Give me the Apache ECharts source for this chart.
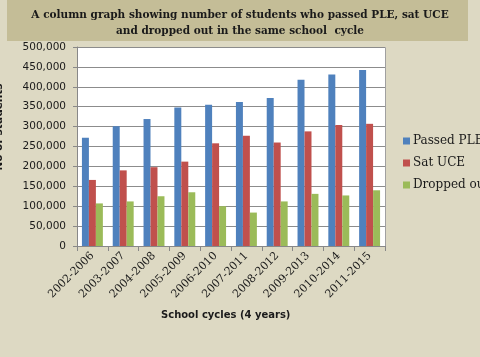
<!DOCTYPE html>
<html><head><meta charset="utf-8">
<script src="https://cdn.jsdelivr.net/npm/echarts@6/dist/echarts.min.js"></script>
<style>html,body{margin:0;padding:0;background:#DDD9C3}#c{width:480px;height:357px}</style>
</head><body><div id="c"></div>
<script>
const categories = ['2002-2006','2003-2007','2004-2008','2005-2009','2006-2010','2007-2011','2008-2012','2009-2013','2010-2014','2011-2015'];
const passedPLE = [272000, 301000, 319000, 348000, 355000, 362000, 372000, 418000, 431000, 442000];
const satUCE = [166000, 190000, 198000, 212000, 258000, 277000, 260000, 288000, 304000, 307000];
const droppedOut = [107000, 112000, 125000, 135000, 100000, 84000, 112000, 131000, 127000, 140000];
const seriesNames = ['Passed PLE', 'Sat UCE', 'Dropped out'];
const titleLines = ['A column graph showing number of students who passed PLE, sat UCE', 'and dropped out in the same school  cycle'];

const chart = echarts.init(document.getElementById('c'));
const colors = ['#4F81BD', '#C0504D', '#9BBB59'];
const serif = 'DejaVu Serif';
chart.setOption({
  backgroundColor: '#DDD9C3',
  animation: false,
  color: colors,
  graphic: [
    {type: 'rect', left: 7, top: 0, shape: {width: 461, height: 41}, style: {fill: '#C4BD97'}, z: 0},
    {type: 'text', left: 'center', top: 7, style: {text: titleLines.join('\n'), font: 'bold 10.5px "' + serif + '"', fill: '#1a1a1a', textAlign: 'center', lineHeight: 16}, z: 1},
    {type: 'rect', left: 77, top: 47, shape: {width: 308, height: 199}, style: {fill: '#fff', stroke: '#A0A0A0', lineWidth: 1}, z: -1, silent: true},
    {type: 'text', left: 161, top: 310, style: {text: 'School cycles (4 years)', font: 'bold 10px "DejaVu Sans"', fill: '#1a1a1a'}},
    {type: 'text', x: -1, y: 127, rotation: Math.PI / 2, style: {text: 'No of students', font: 'bold 10.5px "DejaVu Sans"', fill: '#1a1a1a', textAlign: 'center', textVerticalAlign: 'middle'}}
  ],
  grid: {left: 77, right: 95, top: 47, bottom: 111},
  legend: {
    orient: 'vertical', left: 398, top: 130, itemWidth: 7, itemHeight: 7, itemGap: 10,
    icon: 'rect',
    textStyle: {fontFamily: serif, fontSize: 12, color: '#1a1a1a', padding: [0, 0, 0, -2]},
    data: seriesNames
  },
  xAxis: {
    type: 'category', data: categories,
    axisLine: {lineStyle: {color: '#888', width: 1}},
    axisTick: {show: true, alignWithLabel: false, length: 5, lineStyle: {color: '#888'}},
    axisLabel: {rotate: 45, fontFamily: serif, fontSize: 11, color: '#1a1a1a', margin: 8, interval: 0}
  },
  yAxis: {
    type: 'value', min: 0, max: 500000, interval: 50000,
    axisLine: {show: true, lineStyle: {color: '#888'}},
    axisTick: {show: true, length: 4, lineStyle: {color: '#888'}},
    splitLine: {lineStyle: {color: '#8C8C8C', width: 1}},
    axisLabel: {fontFamily: 'DejaVu Sans', fontSize: 10.5, color: '#1a1a1a', margin: 11,
      formatter: v => v.toLocaleString('en-US')}
  },
  series: [
    {name: seriesNames[0], type: 'bar', data: passedPLE, barGap: '0%', barCategoryGap: '32%'},
    {name: seriesNames[1], type: 'bar', data: satUCE, barGap: '0%', barCategoryGap: '32%'},
    {name: seriesNames[2], type: 'bar', data: droppedOut, barGap: '0%', barCategoryGap: '32%'}
  ]
});
</script></body></html>
